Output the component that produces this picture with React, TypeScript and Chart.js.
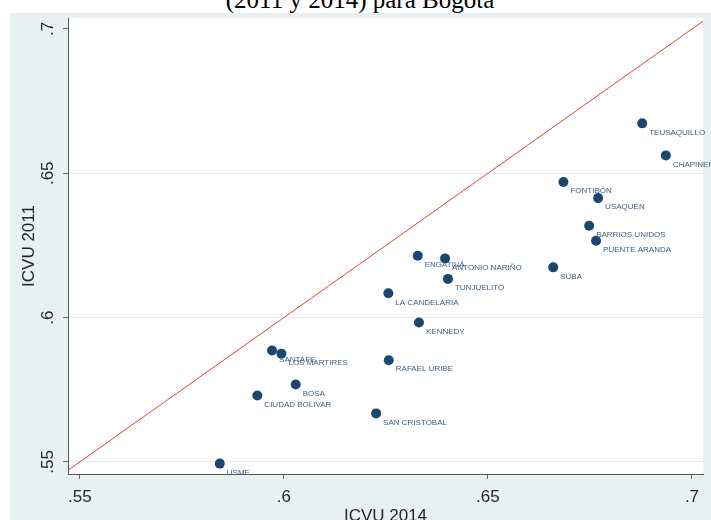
import React, { useEffect, useRef } from "react";
import { Chart, registerables } from "chart.js";

Chart.register(...registerables);

const LOCALIDADES = [
  "TEUSAQUILLO", "CHAPINERO", "FONTIBÓN", "USAQUÉN", "BARRIOS UNIDOS",
  "PUENTE ARANDA", "SUBA", "ENGATIVÁ", "ANTONIO NARIÑO", "TUNJUELITO",
  "LA CANDELARIA", "KENNEDY", "SANTAFE", "LOS MARTIRES", "RAFAEL URIBE",
  "BOSA", "CIUDAD BOLIVAR", "SAN CRISTOBAL", "USME",
];
const ICVU_2014 = [
  0.6878, 0.6936, 0.6685, 0.6770, 0.6748,
  0.6765, 0.6660, 0.6328, 0.6395, 0.6402,
  0.6256, 0.6331, 0.5971, 0.5994, 0.6257,
  0.6029, 0.5935, 0.6226, 0.5843,
];
const ICVU_2011 = [
  0.6673, 0.6562, 0.6470, 0.6414, 0.6318,
  0.6266, 0.6174, 0.6214, 0.6205, 0.6134,
  0.6084, 0.5983, 0.5886, 0.5875, 0.5852,
  0.5768, 0.5730, 0.5668, 0.5494,
];
const X_TICKS = [0.55, 0.6, 0.65, 0.7];
const Y_TICKS = [0.55, 0.6, 0.65, 0.7];
const DIAGONAL = [0.54, 0.71];

const TITLE = "(2011 y 2014) para Bogotá";
const X_TITLE = "ICVU 2014";
const Y_TITLE = "ICVU 2011";

const fmt = (v: number) => String(v).replace(/^0/, "");
const SANS = '"Liberation Sans", Arial, sans-serif';
const BG = "#e8f0f2";
const NAVY = "#1a476f";
const TEXT = "#262626";

const customPlugin = {
  id: "stataLook",
  beforeDraw(chart: any) {
    const { ctx, chartArea: a } = chart;
    ctx.save();
    ctx.fillStyle = BG;
    ctx.fillRect(0, 0, chart.width, chart.height);
    ctx.fillStyle = "#ffffff";
    ctx.fillRect(a.left, a.top, a.right - a.left, a.bottom - a.top);
    ctx.restore();
  },
  afterDatasetsDraw(chart: any) {
    const { ctx } = chart;
    const meta = chart.getDatasetMeta(1);
    ctx.save();
    ctx.font = `8px ${SANS}`;
    ctx.fillStyle = "#3d5e80";
    ctx.textAlign = "left";
    ctx.textBaseline = "middle";
    meta.data.forEach((pt: any, i: number) => {
      ctx.fillText(LOCALIDADES[i], pt.x + 7, pt.y + 9);
    });
    ctx.restore();
  },
  afterDraw(chart: any) {
    const { ctx, chartArea: a } = chart;
    const ys = chart.scales.y;
    ctx.save();
    ctx.fillStyle = TEXT;
    ctx.font = `17px ${SANS}`;
    Y_TICKS.forEach((v) => {
      const py = ys.getPixelForValue(v);
      ctx.save();
      ctx.translate(43, py);
      ctx.rotate(-Math.PI / 2);
      ctx.textAlign = "center";
      ctx.textBaseline = "alphabetic";
      ctx.fillText(fmt(v), 0, 0);
      ctx.restore();
    });
    ctx.save();
    ctx.translate(24, (a.top + a.bottom) / 2);
    ctx.rotate(-Math.PI / 2);
    ctx.textAlign = "center";
    ctx.textBaseline = "alphabetic";
    ctx.fillText(Y_TITLE, 0, 0);
    ctx.restore();
    ctx.textAlign = "center";
    ctx.textBaseline = "alphabetic";
    ctx.fillText(X_TITLE, (a.left + a.right) / 2, 508);
    ctx.restore();
  },
};

export default function App() {
  const ref = useRef<HTMLCanvasElement | null>(null);

  useEffect(() => {
    if (!ref.current) return;
    const points = ICVU_2014.map((x, i) => ({ x, y: ICVU_2011[i] }));
    const chart = new Chart(ref.current, {
      type: "scatter",
      data: {
        datasets: [
          {
            type: "line",
            data: DIAGONAL.map((v) => ({ x: v, y: v })),
            borderColor: "#e0403c",
            borderWidth: 1,
            pointRadius: 0,
            fill: false,
          } as any,
          {
            data: points,
            pointRadius: 5,
            pointBackgroundColor: NAVY,
            pointBorderColor: NAVY,
            pointBorderWidth: 0,
          },
        ],
      },
      options: {
        responsive: false,
        devicePixelRatio: 1,
        animation: false,
        events: [],
        layout: { padding: { top: 2, right: 8, left: 0, bottom: 0 } },
        plugins: { legend: { display: false }, tooltip: { enabled: false } },
        scales: {
          x: {
            type: "linear",
            min: 0.5471,
            max: 0.7027,
            afterBuildTicks: (axis: any) => {
              axis.ticks = X_TICKS.map((v) => ({ value: v }));
            },
            afterFit: (scale: any) => {
              scale.height = 46;
            },
            grid: {
              drawOnChartArea: false,
              drawTicks: true,
              tickLength: 5,
              tickColor: "#666",
            },
            border: { color: "#555", width: 1 },
            ticks: {
              padding: 8,
              color: TEXT,
              font: { family: SANS, size: 17 },
              callback: (v: any) => fmt(Number(v)),
              maxRotation: 0,
              minRotation: 0,
            },
          },
          y: {
            type: "linear",
            min: 0.5458,
            max: 0.7038,
            afterBuildTicks: (axis: any) => {
              axis.ticks = Y_TICKS.map((v) => ({ value: v }));
            },
            afterFit: (scale: any) => {
              scale.width = 58;
            },
            grid: {
              drawOnChartArea: true,
              drawTicks: true,
              tickLength: 5,
              tickColor: "#666",
              color: (c: any) =>
                c.tick && c.tick.value === 0.7 ? "rgba(0,0,0,0)" : "#e6ecee",
              lineWidth: 1,
            },
            border: { color: "#555", width: 1 },
            ticks: { display: false },
          },
        },
      },
      plugins: [customPlugin],
    } as any);
    return () => chart.destroy();
  }, []);

  return (
    <div
      style={{
        position: "absolute",
        left: 0,
        top: 0,
        width: 711,
        height: 520,
        overflow: "hidden",
        background: "#ffffff",
      }}
    >
      <div
        style={{
          position: "absolute",
          left: 0,
          top: -13,
          width: 720,
          textAlign: "center",
          fontFamily: '"Liberation Serif", "Times New Roman", serif',
          fontSize: 25,
          lineHeight: "25px",
          color: "#000",
          whiteSpace: "nowrap",
        }}
      >
        {TITLE}
      </div>
      <canvas
        ref={ref}
        width={701}
        height={507}
        style={{ position: "absolute", left: 10, top: 13, width: 701, height: 507 }}
      />
    </div>
  );
}
